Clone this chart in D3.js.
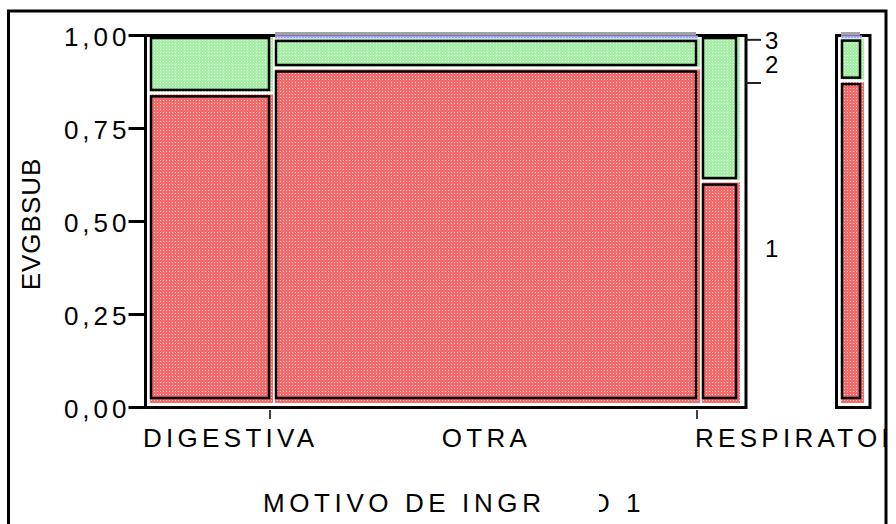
<!DOCTYPE html>
<html>
<head>
<meta charset="utf-8">
<script src="https://cdn.jsdelivr.net/npm/d3@7"></script>
<style>
  body { margin: 0; background: #fff; }
  text { font-family: "Liberation Sans", Arial, sans-serif; fill: #000; }
</style>
</head>
<body>
<svg id="chart"></svg>
<script>
// Mosaic data: one column per category of MOTIVO DE INGRESO 1
const categories = ['DIGESTIVA', 'OTRA', 'RESPIRATORIA', ''];
const colSizes = [125, 427, 40, 25];          // relative column widths (group size)
const panelOf = [0, 0, 0, 1];                 // last column sits in its own box
const share1 = [0.843, 0.910, 0.606, 0.876];  // EVGBSUB = 1
const share2 = [0.157, 0.082, 0.394, 0.117];  // EVGBSUB = 2
const share3 = [0.000, 0.008, 0.000, 0.007];  // EVGBSUB = 3
const levels = ['1', '2', '3'];
const marginal = [0.871, 0.116, 0.013];       // overall shares, right-hand scale
const yTicks = [0, 0.25, 0.5, 0.75, 1];
const yTickLabels = ['0,00', '0,25', '0,50', '0,75', '1,00'];

const W = 896, H = 524;
const panelGap = 99;

const svg = d3.select('#chart').attr('width', W).attr('height', H);

// fill patterns (dotted, like the original)
const defs = svg.append('defs');
function dotPattern(id, bg, dot) {
  const p = defs.append('pattern')
    .attr('id', id)
    .attr('patternUnits', 'userSpaceOnUse')
    .attr('width', 3)
    .attr('height', 3);
  p.append('rect').attr('width', 3).attr('height', 3).style('fill', bg);
  p.append('rect').attr('x', 1).attr('y', 1).attr('width', 1).attr('height', 1).style('fill', dot);
  return p;
}
dotPattern('patRed', '#f46a6a', '#ffd0d0');
dotPattern('patGreen', '#a6efa6', '#e8ffe8');
dotPattern('patBlue', '#a0a0ff', '#e0e0ff');
const patIds = ['patRed', 'patGreen', 'patBlue'];

defs.append('clipPath').attr('id', 'page-clip')
  .append('rect').attr('x', 10).attr('y', 12).attr('width', 876).attr('height', 520);

// column extents
let pos = 0;
const cols = categories.map((c, i) => {
  if (i > 0 && panelOf[i] !== panelOf[i - 1]) pos += panelGap;
  const col = {
    name: c, i, panel: panelOf[i], start: pos, end: pos + colSizes[i],
    shares: [share1[i], share2[i], share3[i]]
  };
  pos += colSizes[i];
  return col;
});

const x = d3.scaleLinear().domain([0, pos]).range([148, 148 + pos]);
const y = d3.scaleLinear().domain([0, 1]).range([407, 35]);

// segments
const segs = [];
cols.forEach(col => {
  let c0 = 0;
  col.shares.forEach((s, k) => {
    if (s > 0) segs.push({ col, k, c0, c1: c0 + s });
    c0 += s;
  });
});

const fills = svg.append('g');
const frames = svg.append('g');
const outlines = svg.append('g');
const thin = svg.append('g');

segs.forEach(d => {
  const x0 = x(d.col.start), x1 = x(d.col.end);
  const yTop = y(d.c1), yBot = y(d.c0);
  const base = d.c0 === 0;
  if (yBot - yTop < 8) {
    // very thin segment: grey cap plus a strip of fill
    thin.append('rect')
      .attr('x', x0 + 2).attr('y', yTop - 3)
      .attr('width', x1 - x0 - 6).attr('height', 3.5)
      .attr('fill', '#a4a4a4');
    thin.append('rect')
      .attr('x', x0 + 2).attr('y', yTop + 0.5)
      .attr('width', x1 - x0 - 4).attr('height', yBot - yTop)
      .style('fill', `url(#${patIds[d.k]})`);
    return;
  }
  const oTop = yTop + 3, oBot = yBot - 3.5 - (base ? 5.5 : 0);
  const fTop = yTop + 1, fBot = oBot + (base ? 5 : 2);
  fills.append('rect')
    .attr('x', x0 + 2).attr('y', fTop)
    .attr('width', x1 - x0 - 2).attr('height', fBot - fTop)
    .style('fill', `url(#${patIds[d.k]})`);
  outlines.append('rect')
    .attr('x', x0 + 3).attr('y', oTop)
    .attr('width', x1 - x0 - 7).attr('height', oBot - oTop)
    .attr('fill', 'none').attr('stroke', '#000').attr('stroke-width', 2.5);
});

// panel frames
d3.groups(cols, c => c.panel).forEach(([p, cs]) => {
  const left = x(d3.min(cs, c => c.start)) - 2.5;
  const right = x(d3.max(cs, c => c.end)) + 6;
  frames.append('rect')
    .attr('x', left).attr('y', y(1) + 0.5)
    .attr('width', right - left).attr('height', y(0) - y(1))
    .attr('fill', 'none').attr('stroke', '#000').attr('stroke-width', 3);
});

// y axis
const yAxis = d3.axisLeft(y)
  .tickValues(yTicks)
  .tickFormat((d, i) => yTickLabels[i])
  .tickSize(17)
  .tickPadding(3);

svg.append('g')
  .attr('transform', 'translate(145.5,0)')
  .call(yAxis)
  .call(g => g.select('.domain').remove())
  .call(g => g.selectAll('.tick line').attr('stroke', '#000').attr('stroke-width', 3))
  .call(g => g.selectAll('.tick text')
    .attr('x', -15)
    .attr('dy', '0.42em')
    .style('font-size', '26px')
    .style('letter-spacing', '4px')
    .style('font-family', '"Liberation Sans", Arial, sans-serif'));

svg.append('text')
  .attr('transform', `translate(40,${y(0.5) + 3}) rotate(-90)`)
  .attr('text-anchor', 'middle')
  .style('font-size', '26px')
  .style('letter-spacing', '1px')
  .text('EVGBSUB');

// x ticks at column boundaries inside the first panel
const inner = cols.filter((c, i) => i < cols.length - 1 && cols[i + 1].panel === c.panel);
svg.append('g').selectAll('line')
  .data(inner)
  .join('line')
  .attr('x1', d => x(d.end) - 3).attr('x2', d => x(d.end) - 3)
  .attr('y1', 410).attr('y2', 419)
  .attr('stroke', '#000').attr('stroke-width', 1.5);

// x labels: centred on the column, not starting left of it
const xLab = svg.append('g').attr('clip-path', 'url(#page-clip)');
cols.filter(c => c.name).forEach(c => {
  const t = xLab.append('text')
    .attr('y', 447)
    .style('font-size', '26px')
    .style('letter-spacing', '4.3px')
    .text(c.name);
  const w = t.node().getComputedTextLength();
  const mid = (x(c.start) + x(c.end)) / 2;
  t.attr('x', Math.max(mid - w / 2, x(c.start) - 5));
});

// axis title (partly hidden in the original)
svg.append('text')
  .attr('x', 263).attr('y', 512)
  .style('font-size', '26px')
  .style('letter-spacing', '4.6px')
  .text('MOTIVO DE INGRESO 1');
svg.append('rect')
  .attr('x', 547).attr('y', 484)
  .attr('width', 52).attr('height', 32)
  .attr('fill', '#fff');

// right-hand scale for the overall distribution
const cum = d3.cumsum(marginal);
const legX = x(d3.max(cols.filter(c => c.panel === 0), c => c.end)) + 6;
svg.append('g').selectAll('line')
  .data(cum.slice(0, -1))
  .join('line')
  .attr('x1', legX).attr('x2', legX + 15)
  .attr('y1', d => y(d)).attr('y2', d => y(d))
  .attr('stroke', '#222').attr('stroke-width', 2);

svg.append('g').selectAll('text')
  .data(levels)
  .join('text')
  .attr('x', legX + 19)
  .attr('y', (d, i) => y(cum[i] - marginal[i] / 2) + 3)
  .attr('dy', '0.36em')
  .style('font-size', '24px')
  .text(d => d);

// outer border (drawn last so it trims the long label)
svg.append('rect')
  .attr('x', 8.5).attr('y', 11)
  .attr('width', 877.5).attr('height', 600)
  .attr('fill', 'none').attr('stroke', '#000').attr('stroke-width', 3);
</script>
</body>
</html>
